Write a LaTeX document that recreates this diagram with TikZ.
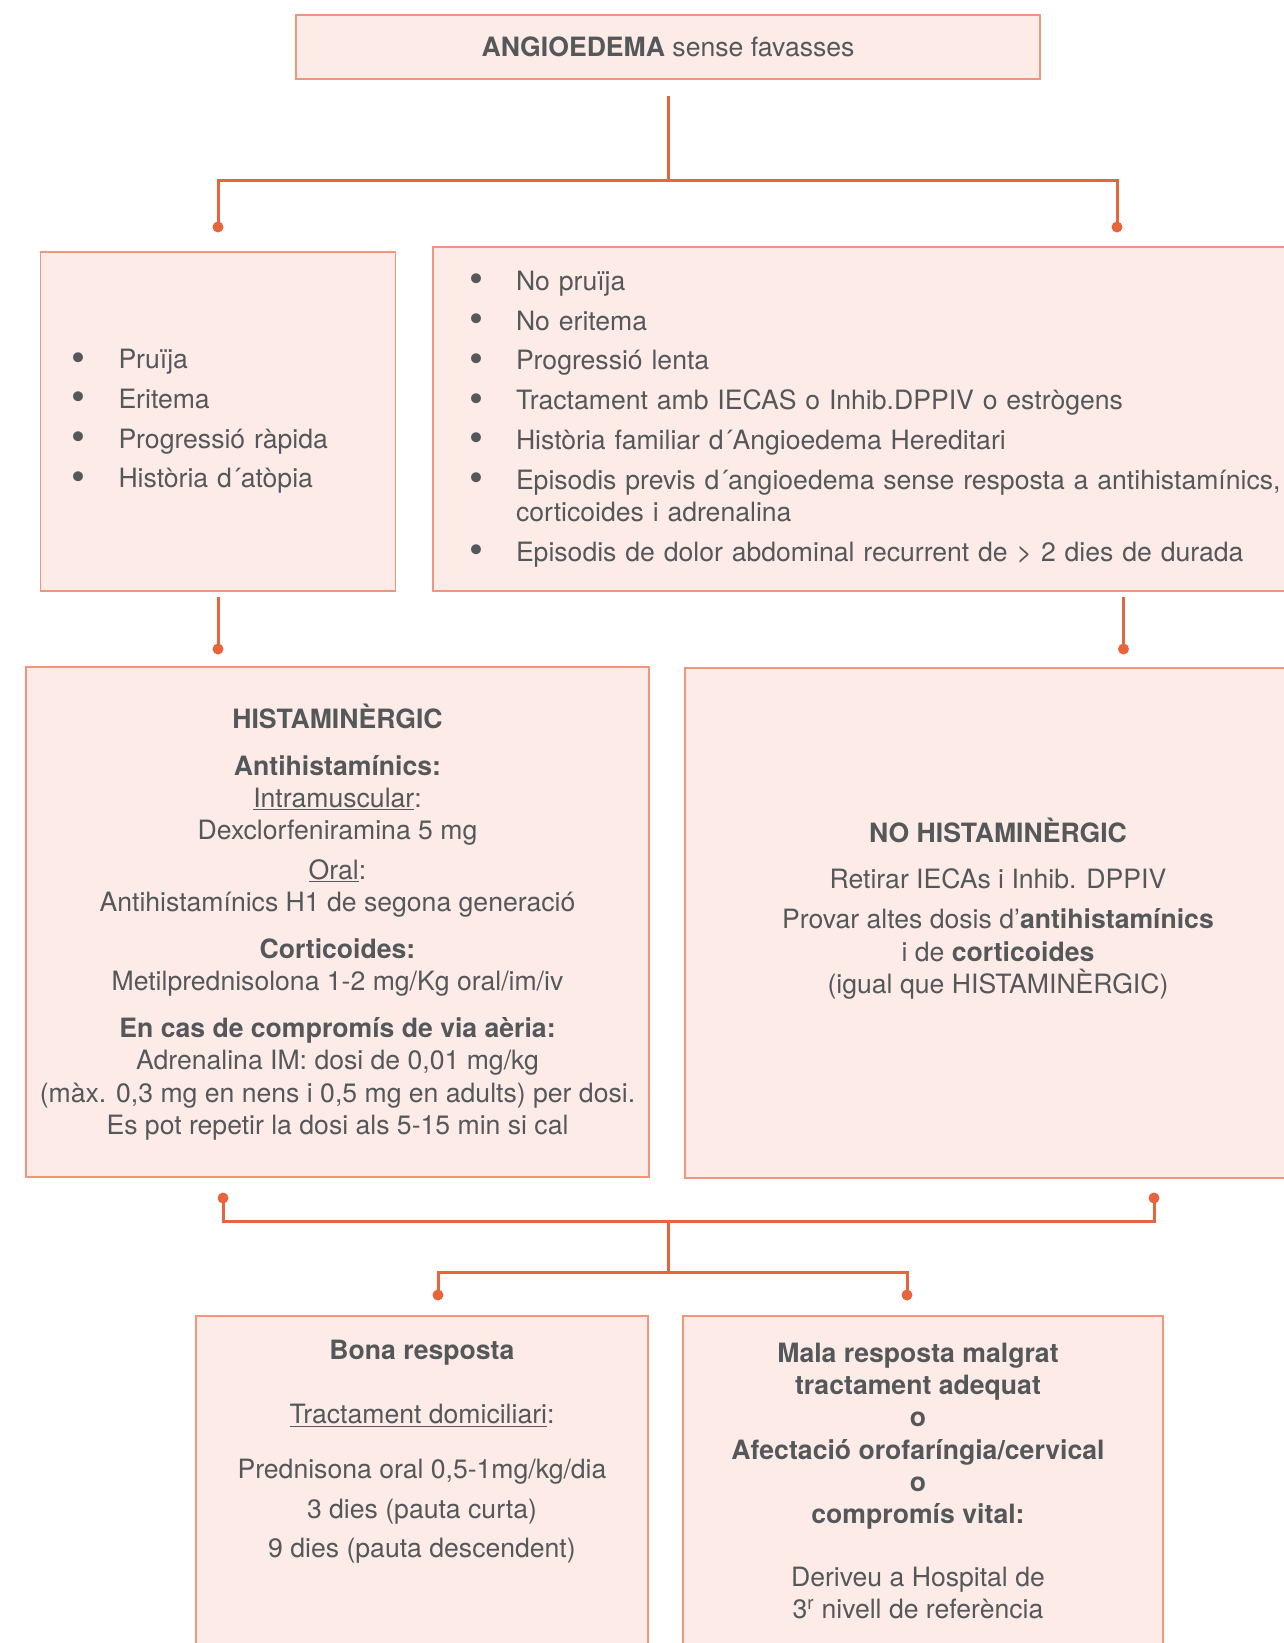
\documentclass[tikz,border=0pt]{standalone}
\usepackage{fontspec}
\setmainfont{TeX Gyre Heros}
\usepackage{tikz}
\usetikzlibrary{positioning, calc}
\definecolor{boxfill}{HTML}{FCEBE7}
\definecolor{boxline}{HTML}{F2957A}
\definecolor{linkred}{HTML}{E8643C}
\definecolor{inkgray}{HTML}{55585B}
\newcommand{\bul}{\makebox[47pt][l]{\raisebox{-2.5pt}{\scalebox{1.5}{\textbullet}}}}

\begin{document}
\begin{tikzpicture}[x=1pt, y=-1pt,
    box/.style={draw=boxline, fill=boxfill, line width=1.5pt, rectangle, text=inkgray,
                font=\fontsize{26.6}{32.3}\selectfont},
    link/.style={draw=linkred, line width=3pt},
    knob/.style={fill=linkred}]
    \useasboundingbox (0,0) rectangle (1284,1643);
    \fill[white] (0,0) rectangle (1284,1643);
    \clip (0,0) rectangle (1284,1643);

    \node (top) at (668,47) [box, minimum width=744pt, minimum height=64pt] {\textbf{ANGIOEDEMA} sense favasses};

    \node (sympH) at (218,421.5) [box, text width=293pt, inner xsep=31pt, minimum height=339pt, align=left]
        {\bul Pruïja\\[7.5pt] \bul Eritema\\[7.5pt] \bul Progressió ràpida\\[7.5pt] \bul Història d´atòpia};
    \node (sympN) at (889,419) [box, text width=840pt, inner xsep=36pt, minimum height=344pt, align=left]
        {\bul No pruïja\\[7.5pt]
         \bul No eritema\\[7.5pt]
         \bul Progressió lenta\\[7.5pt]
         \bul Tractament amb IECAS o Inhib.DPPIV o estrògens\\[7.5pt]
         \bul Història familiar d´Angioedema Hereditari\\[7.5pt]
         \bul \mbox{Episodis previs d´angioedema sense resposta a antihistamínics,}\\
         \hspace*{47pt}corticoides i adrenalina\\[7.5pt]
         \bul Episodis de dolor abdominal recurrent de > 2 dies de durada};

    \node (hist) at (337.5,922) [box, minimum width=623pt, minimum height=510pt, align=center]
        {\textbf{HISTAMINÈRGIC}\\[14.5pt]
         \textbf{Antihistamínics:}\\
         \underline{Intramuscular}:\\
         Dexclorfeniramina 5 mg\\[7.5pt]
         \underline{Oral}:\\
         Antihistamínics H1 de segona generació\\[14.5pt]
         \textbf{Corticoides:}\\
         Metilprednisolona 1-2 mg/Kg oral/im/iv\\[14.5pt]
         \textbf{En cas de compromís de via aèria:}\\
         Adrenalina IM: dosi de 0,01 mg/kg\\
         (màx. 0,3 mg en nens i 0,5 mg en adults) per dosi.\\
         Es pot repetir la dosi als 5-15 min si cal};
    \node (nohist) at (998,667) [box, anchor=north, inner xsep=0pt, inner ysep=150pt]
        {\parbox[c][210pt][t]{626pt}{\centering
         \textbf{NO HISTAMINÈRGIC}\\[13.5pt]
         Retirar IECAs i Inhib. DPPIV\\[8.5pt]
         Provar altes dosis d’\textbf{antihistamínics}\\
         i de \textbf{corticoides}\\
         (igual que HISTAMINÈRGIC)}};

    \node (good) at (422,1315) [box, anchor=north, inner xsep=0pt, inner ysep=24pt]
        {\parbox[c][330pt][t]{452pt}{\centering
         \textbf{Bona resposta}\\[32.5pt]
         \underline{Tractament domiciliari}:\\[22pt]
         Prednisona oral 0,5-1mg/kg/dia\\[7.5pt]
         3 dies (pauta curta)\\[7.5pt]
         9 dies (pauta descendent)}};
    \node (bad) at (923,1315) [box, anchor=north, inner xsep=0pt, inner ysep=27pt]
        {\parbox[c][330pt][t]{480pt}{\centering\rightskip=10pt plus 1fil
         \textbf{Mala resposta malgrat}\\
         \textbf{tractament adequat}\\
         \textbf{o}\\
         \textbf{Afectació orofaríngia/cervical}\\
         \textbf{o}\\
         \textbf{compromís vital:}\\[30.5pt]
         Deriveu a Hospital de\\
         3\textsuperscript{r} nivell de referència}};

    \coordinate (hubA) at (668,180);
    \coordinate (dotL1) at (218,227);
    \coordinate (dotR1) at (1117,227);
    \coordinate (dotL2) at (218,649);
    \coordinate (dotR2) at (1123.5,649);
    \coordinate (dotL3) at (223,1198);
    \coordinate (dotR3) at (1154,1198);
    \coordinate (hubB) at (668,1221);
    \coordinate (hubC) at (668,1272);
    \coordinate (dotL4) at (438,1295);
    \coordinate (dotR4) at (907,1295);

    \draw[link] ([yshift=-16pt]top.south) -- (hubA);
    \draw[link] (dotL1) |- (hubA) -| (dotR1);
    \draw[link] ([yshift=-5pt]sympH.south) -- (dotL2);
    \draw[link] ($(sympN.south -| dotR2)+(0,5)$) -- (dotR2);
    \draw[link] (dotL3) |- (hubB) -| (dotR3);
    \draw[link] (hubB) -- (hubC);
    \draw[link] (dotL4) |- (hubC) -| (dotR4);
    \foreach \k in {dotL1,dotR1,dotL2,dotR2,dotL3,dotR3,dotL4,dotR4} {
        \fill[knob] (\k) circle (5.5pt);
    }
\end{tikzpicture}
\end{document}
